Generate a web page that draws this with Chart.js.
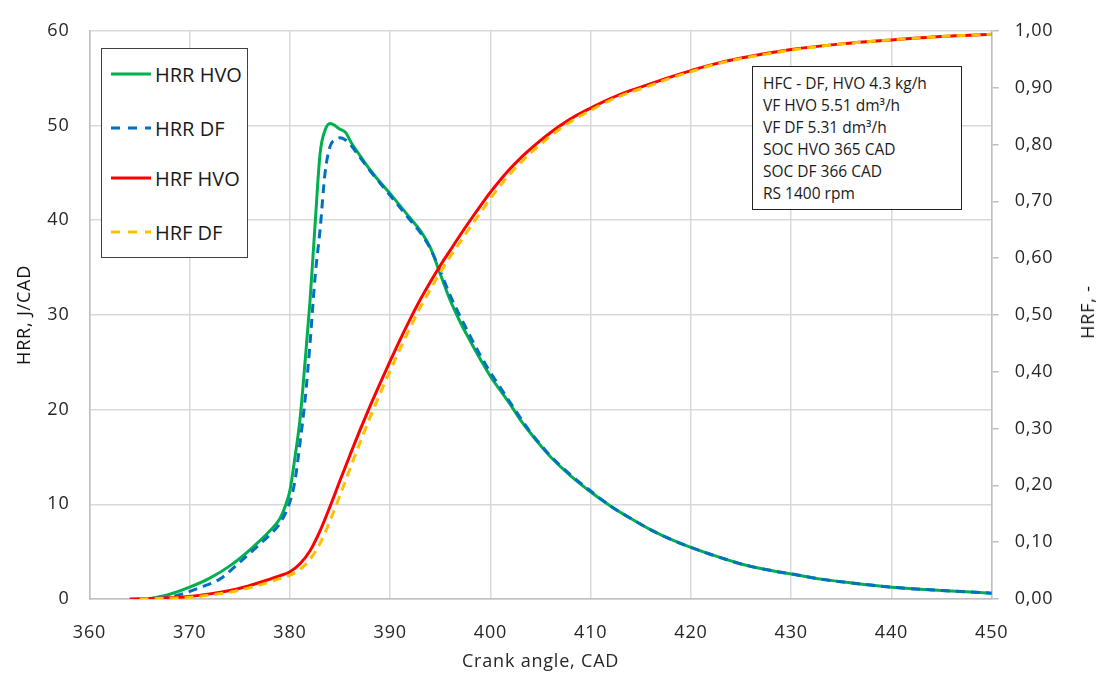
<!DOCTYPE html>
<html>
<head>
<meta charset="utf-8">
<script src="https://cdn.jsdelivr.net/npm/chart.js@4"></script>
<style>
  body { margin: 0; background: #fff; font-family: "Open Sans", sans-serif; }
  #wrap { position: relative; width: 1107px; height: 677px; }
  #legend { position: absolute; left: 101px; top: 48px; width: 145px; height: 208px; border: 1px solid #404040; background: #fff; }
  .row { position: absolute; left: 8px; height: 24px; display: flex; align-items: center; font-size: 20px; color: #1a1a1a; }
  .row svg { margin-right: 3px; }
  #info { position: absolute; left: 752px; top: 66px; width: 208px; height: 142px; border: 1px solid #222; background: #fff; font-size: 15.5px; color: #1a1a1a; }
  #info div { position: absolute; left: 10px; white-space: nowrap; }
  #rtitle { position: absolute; left: 1087px; top: 312px; transform: translate(-50%, -50%) rotate(-90deg); font-size: 18px; letter-spacing: 0.8px; color: #111; white-space: nowrap; }
</style>
</head>
<body>
<div id="wrap">
  <canvas id="chart" width="1107" height="677"></canvas>
  <div id="legend"></div>
  <div id="info"></div>
  <div id="rtitle">HRF, -</div>
</div>
<script>
// HRR, J/CAD
const crankHrrHvo = [366, 368, 370, 372, 374, 376, 378, 379, 379.6, 380, 380.5, 381, 381.5, 382, 382.5, 383, 383.5, 384, 385, 385.6, 386, 387, 388, 389, 390, 391, 392, 393, 394, 395, 396, 397, 398, 399, 400, 401, 402, 403, 404, 405, 406, 408, 410, 412, 414, 416, 418, 420, 422, 425, 428, 430, 433, 436, 440, 445, 450];
const hrrHvo = [0, 0.5, 1.25, 2.2, 3.5, 5.2, 7.2, 8.5, 10, 11.5, 15, 19, 25, 31.5, 39.5, 47, 49.5, 50.2, 49.6, 49.2, 48.4, 46.8, 45.3, 44, 42.8, 41.5, 40.2, 38.9, 37.1, 34.3, 31.5, 29.2, 27.2, 25.3, 23.5, 22, 20.5, 18.9, 17.5, 16.2, 15, 13, 11.3, 9.8, 8.5, 7.3, 6.3, 5.45, 4.7, 3.7, 3.0, 2.65, 2.1, 1.7, 1.25, 0.9, 0.62];

const crankHrrDf = [367, 369, 371, 373, 375, 377, 378, 379, 380, 380.5, 381, 381.5, 382, 382.5, 383, 383.5, 384, 384.5, 385, 385.5, 386, 387, 388, 389, 390, 391, 392, 393, 394, 395, 396, 397, 398, 399, 400, 401, 402, 403, 404, 405, 406, 408, 410, 412, 414, 416, 418, 420, 422, 425, 428, 430, 433, 436, 440, 445, 450];
const hrrDf = [0, 0.45, 1.2, 2.1, 3.9, 5.8, 6.8, 8, 10.3, 12.5, 16.5, 21, 27, 34, 39, 45, 47.8, 48.5, 48.7, 48.5, 48, 46.6, 45.2, 43.9, 42.6, 41.3, 40, 38.7, 37, 34.6, 32, 29.8, 27.7, 25.7, 23.9, 22.3, 20.7, 19.1, 17.6, 16.3, 15.1, 13.1, 11.4, 9.8, 8.5, 7.3, 6.3, 5.45, 4.7, 3.7, 3.0, 2.65, 2.1, 1.7, 1.25, 0.9, 0.62];

// HRF, -
const crankHrfHvo = [364, 366, 368, 370, 372, 374, 375, 376, 377, 378, 379, 380, 381, 382, 383, 384, 385, 386, 387, 388, 389, 390, 391, 392, 393, 394, 395, 396, 397, 398, 399, 400, 401, 402, 403, 404, 405, 406, 408, 410, 412, 414, 416, 418, 420, 422, 425, 430, 435, 440, 445, 450];
const hrfHvo = [0, 0.001, 0.002, 0.0045, 0.009, 0.015, 0.019, 0.024, 0.029, 0.035, 0.041, 0.048, 0.062, 0.085, 0.12, 0.163, 0.209, 0.254, 0.298, 0.34, 0.38, 0.419, 0.457, 0.493, 0.527, 0.558, 0.587, 0.614, 0.641, 0.667, 0.692, 0.716, 0.738, 0.758, 0.776, 0.792, 0.807, 0.821, 0.845, 0.864, 0.881, 0.895, 0.907, 0.919, 0.93, 0.94, 0.952, 0.967, 0.977, 0.984, 0.99, 0.994];

const crankHrfDf = [365, 367, 370, 372, 374, 376, 378, 379, 380, 381, 382, 383, 384, 385, 386, 387, 388, 389, 390, 391, 392, 393, 394, 395, 396, 397, 398, 399, 400, 401, 402, 403, 404, 405, 406, 408, 410, 412, 414, 416, 418, 420, 422, 425, 430, 435, 440, 445, 450];
const hrfDf = [0, 0.001, 0.003, 0.007, 0.012, 0.02, 0.03, 0.036, 0.042, 0.052, 0.07, 0.098, 0.138, 0.183, 0.23, 0.276, 0.32, 0.362, 0.402, 0.441, 0.478, 0.513, 0.545, 0.575, 0.603, 0.629, 0.655, 0.68, 0.705, 0.728, 0.749, 0.768, 0.785, 0.8, 0.815, 0.84, 0.86, 0.878, 0.892, 0.904, 0.917, 0.928, 0.939, 0.951, 0.966, 0.977, 0.984, 0.99, 0.994];

const seriesNames = ['HRR HVO', 'HRR DF', 'HRF HVO', 'HRF DF'];
const seriesColors = ['#00b050', '#0070c0', '#ff0000', '#ffc000'];
const infoLines = ['HFC - DF, HVO 4.3 kg/h', 'VF HVO 5.51 dm³/h', 'VF DF 5.31 dm³/h', 'SOC HVO 365 CAD', 'SOC DF 366 CAD', 'RS 1400 rpm'];

function pts(xs, ys) {
    return xs.map((x, i) => ({ x: x, y: ys[i] }));
}

const font = { family: '"Open Sans", sans-serif', size: 18 };
const tickColor = '#262626';

function makeSet(i, data, axis, dashed, order) {
    return {
        label: seriesNames[i],
        data: data,
        yAxisID: axis,
        borderColor: seriesColors[i],
        borderWidth: 3,
        borderDash: dashed ? [9, 6] : [],
        pointRadius: 0,
        cubicInterpolationMode: 'monotone',
        fill: false,
        order: order
    };
}

// the reference text is a bit wider than Open Sans, so spread the letters
const spacing = {
    id: 'spacing',
    beforeDraw: chart => { chart.ctx.letterSpacing = '0.8px'; }
};

new Chart(document.getElementById('chart'), {
    type: 'line',
    data: {
        datasets: [
            makeSet(0, pts(crankHrrHvo, hrrHvo), 'y', false, 4),
            makeSet(1, pts(crankHrrDf, hrrDf), 'y', true, 3),
            makeSet(2, pts(crankHrfHvo, hrfHvo), 'y1', false, 2),
            makeSet(3, pts(crankHrfDf, hrfDf), 'y1', true, 1)
        ]
    },
    plugins: [spacing],
    options: {
        responsive: false,
        animation: false,
        layout: { padding: { top: 20, left: 0, right: 0, bottom: 0 } },
        plugins: { legend: { display: false }, tooltip: { enabled: false } },
        scales: {
            x: {
                type: 'linear', min: 360, max: 450,
                afterFit: s => { s.height = 78; },
                grid: { color: '#d9d9d9', lineWidth: 1.5, drawTicks: false },
                border: { color: '#bfbfbf', width: 1.5 },
                ticks: { stepSize: 10, padding: 23, color: tickColor, font: font },
                title: { display: true, text: 'Crank angle, CAD', color: tickColor, font: font, padding: { bottom: 4 } }
            },
            y: {
                position: 'left', min: 0, max: 60,
                afterFit: s => { s.width = 89.5; },
                grid: { color: '#d9d9d9', lineWidth: 1.5, drawTicks: false },
                border: { color: '#bfbfbf', width: 1.5 },
                ticks: { stepSize: 10, padding: 20, color: tickColor, font: font },
                title: { display: true, text: 'HRR, J/CAD', color: '#111', font: font, padding: { top: 14 } }
            },
            y1: {
                position: 'right', min: 0, max: 1,
                afterFit: s => { s.width = 115.3; },
                grid: { drawOnChartArea: false, color: '#bfbfbf', lineWidth: 1.5, tickLength: 7 },
                border: { color: '#bfbfbf', width: 1.5 },
                ticks: {
                    stepSize: 0.1, padding: 16, color: tickColor, font: font,
                    callback: v => v.toFixed(2).replace('.', ',')
                },
                title: { display: false }
            }
        }
    }
});

// legend box, drawn as HTML over the plot
const legend = document.getElementById('legend');
const rowTops = [13, 67, 117, 171];
seriesNames.forEach((name, i) => {
    const row = document.createElement('div');
    row.className = 'row';
    row.style.top = rowTops[i] + 'px';
    const dash = i % 2 === 1 ? 'stroke-dasharray="9 8"' : '';
    row.innerHTML = '<svg width="42" height="6"><line x1="1" y1="3" x2="41" y2="3" stroke="' + seriesColors[i] +
        '" stroke-width="3" ' + dash + '/></svg>' + name;
    legend.appendChild(row);
});

const info = document.getElementById('info');
infoLines.forEach((t, i) => {
    const d = document.createElement('div');
    d.style.top = (5 + i * 22) + 'px';
    d.textContent = t;
    info.appendChild(d);
});
</script>
</body>
</html>
